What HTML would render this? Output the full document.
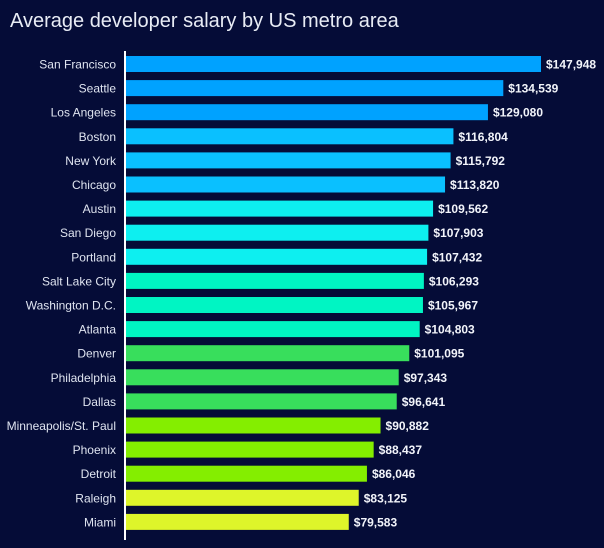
<!DOCTYPE html>
<html><head><meta charset="utf-8"><style>
body{margin:0;background:#050c37;}
svg{display:block;font-family:"Liberation Sans",sans-serif;}
</style></head><body>
<svg id="c" width="604" height="548">
<rect width="604" height="548" fill="#050c37"/>
<text x="10" y="27" font-size="20" fill="#e8ecf5">Average developer salary by US metro area</text>
<g id="bars"></g>
<line x1="125" y1="51" x2="125" y2="540" stroke="#ffffff" stroke-width="2"/>
</svg>
<script>
const cities=["San Francisco","Seattle","Los Angeles","Boston","New York","Chicago","Austin","San Diego","Portland","Salt Lake City","Washington D.C.","Atlanta","Denver","Philadelphia","Dallas","Minneapolis/St. Paul","Phoenix","Detroit","Raleigh","Miami"];
const salaries=[147948,134539,129080,116804,115792,113820,109562,107903,107432,106293,105967,104803,101095,97343,96641,90882,88437,86046,83125,79583];
const colorGroups=[0,0,0,1,1,1,2,2,2,3,3,3,4,4,4,5,5,5,6,6];
const palette=["#00a2ff","#0ac0ff","#0deff0","#00f5c3","#38de5c","#84ee00","#def52a"];
const x0=125, pxPer=416/147948, topY=56, pitch=24.1, bh=16;
const xs=v=>x0+v*pxPer;
const ys=i=>topY+i*pitch;
const g=document.getElementById('bars');
const ns='http://www.w3.org/2000/svg';
cities.forEach((c,i)=>{
  const y=ys(i);
  const r=document.createElementNS(ns,'rect');
  r.setAttribute('x',x0);r.setAttribute('y',y);
  r.setAttribute('width',xs(salaries[i])-x0);r.setAttribute('height',bh);
  r.setAttribute('fill',palette[colorGroups[i]]);
  
  
  g.appendChild(r);
  const l=document.createElementNS(ns,'text');
  l.setAttribute('x',116);l.setAttribute('y',y+12.5);
  l.setAttribute('text-anchor','end');l.setAttribute('font-size','12');l.setAttribute('fill','#dfe4f0');
  l.textContent=c;
  
  
  g.appendChild(l);
  const v=document.createElementNS(ns,'text');
  v.setAttribute('x',xs(salaries[i])+5);v.setAttribute('y',y+12.5);
  v.setAttribute('font-size','12');v.setAttribute('font-weight','bold');v.setAttribute('fill','#f2f4fa');
  v.textContent='$'+salaries[i].toLocaleString('en-US');
  
  
  g.appendChild(v);
});
</script>
</body></html>
